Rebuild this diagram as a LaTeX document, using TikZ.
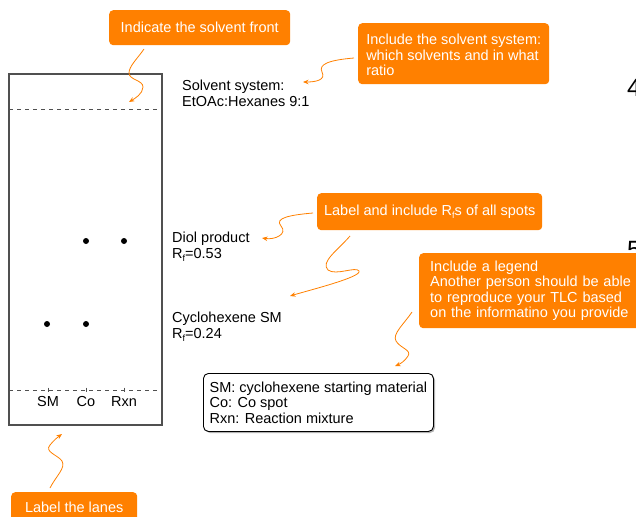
\documentclass[tikz,border=0pt]{standalone}
\usepackage{fontspec}
\setmainfont{Liberation Sans}
\usetikzlibrary{arrows.meta}
\definecolor{org}{RGB}{255,128,0}
\definecolor{plate}{RGB}{80,80,80}
\newcommand\subfx{\raisebox{-3pt}{\fontsize{9}{9}\selectfont f}}
\begin{document}
\begin{tikzpicture}[x=1pt,y=-1pt,
  every node/.style={font=\fontsize{14.5}{15.5}\selectfont},
  obox/.style={fill=org, text=white, rounded corners=4pt, align=left, inner sep=0pt, anchor=north west},
  warrow/.style={draw=org, line width=0.8pt, -{Stealth[length=5.5pt,width=4.5pt]}},
  lbl/.style={align=left, inner sep=0pt, anchor=north west},
  front/.style={draw=plate, line width=0.9pt, dash pattern=on 4pt off 4pt},
  tick/.style={draw=plate, line width=0.8pt},
  spot/.style={circle, fill=black, inner sep=0pt, minimum size=6pt},
  lane/.style={inner sep=0pt}
]
\useasboundingbox (0,0) rectangle (636,516);
\clip (0,0) rectangle (636,516);

% partially visible digits at right edge
\node[anchor=base west, inner sep=0pt, font=\fontsize{25}{25}\selectfont] (d4) at (627,97) {4};
\node[anchor=base west, inner sep=0pt, font=\fontsize{25}{25}\selectfont] (d5) at (627,258) {5};

% TLC plate
\draw[draw=plate, line width=1.2pt] (9,74) rectangle (162,425);
\draw[front] (9,109) -- (161,109);
\draw[front] (9,390) -- (161,390);
\draw[tick] (48,387.5) -- (48,391.5);
\draw[tick] (86,387.5) -- (86,391.5);
\draw[tick] (124,387.5) -- (124,391.5);
\node[lane] (lsm) at (48,402) {SM};
\node[lane] (lco) at (86,402) {Co};
\node[lane] (lrx) at (124,402) {Rxn};

% spots
\node[spot] (s1) at (86,241) {};
\node[spot] (s2) at (124,241) {};
\node[spot] (s3) at (47,324) {};
\node[spot] (s4) at (86,324) {};

% labels
\node[lbl] (solv) at (182,80) {Solvent system:\\EtOAc:Hexanes 9:1};
\node[lbl] (diol) at (172,232) {Diol product\\R\subfx=0.53};
\node[lbl] (cyc) at (172,312) {Cyclohexene SM\\R\subfx=0.24};

% legend
\fill[gray!60, rounded corners=5pt] (205,375) rectangle (435,433);
\node[draw=black, line width=0.9pt, fill=white, rounded corners=5pt, align=left, inner sep=0pt,
      minimum width=230, minimum height=58, anchor=north west] (leg) at (203,373)
  {SM: cyclohexene starting material\\Co: Co spot\\Rxn: Reaction mixture};

% orange callouts
\node[obox, minimum width=181, minimum height=35] (b1) at (109,10) {Indicate the solvent front};
\node[obox, minimum width=191, minimum height=61] (b2) at (358,23) {\rule{0pt}{13pt}Include the solvent system:\\which solvents and in what\\ratio};
\node[obox, minimum width=225, minimum height=37] (b3) at (317,193) {Label and include R\subfx s of all spots};
\node[obox, inner xsep=11pt, text width=215pt, minimum height=75] (b4) at (419,253) {Include a legend\\Another person should be able\\to reproduce your TLC based\\on the informatino you provide};
\node[obox, minimum width=126, minimum height=30] (b5) at (11,492) {Label the lanes};

% connector end points
\coordinate (a1s) at (144,49);  \coordinate (a1e) at (129,102);
\coordinate (a2s) at (354,58);  \coordinate (a2e) at (303,82);
\coordinate (a3s) at (313,213); \coordinate (a3e) at (262,238);
\coordinate (a4s) at (350,236); \coordinate (a4e) at (290,296);
\coordinate (a5s) at (412,312); \coordinate (a5e) at (395,366);
\coordinate (a6s) at (50,488);  \coordinate (a6e) at (62,434);

\draw[warrow] (a1s) .. controls (138,58) and (129,66) .. (129,73) .. controls (129,80) and (143,80) .. (143,87) .. controls (143,94) and (134,99) .. (a1e);
\draw[warrow] (a2s) .. controls (330,60) and (318,64) .. (322,72) .. controls (326,80) and (316,82) .. (a2e);
\draw[warrow] (a3s) .. controls (290,215) and (274,218) .. (281,226) .. controls (288,234) and (275,240) .. (a3e);
\draw[warrow] (a4s) .. controls (338,250) and (320,262) .. (328,270) .. controls (336,276) and (356,266) .. (359,271) .. controls (362,277) and (310,290) .. (a4e);
\draw[warrow] (a5s) .. controls (404,324) and (392,334) .. (396,341) .. controls (400,348) and (412,350) .. (408,356) .. controls (405,361) and (400,364) .. (a5e);
\draw[warrow] (a6s) .. controls (56,476) and (66,468) .. (62,461) .. controls (58,455) and (44,452) .. (50,445) .. controls (54,440) and (58,437) .. (a6e);
\end{tikzpicture}
\end{document}
